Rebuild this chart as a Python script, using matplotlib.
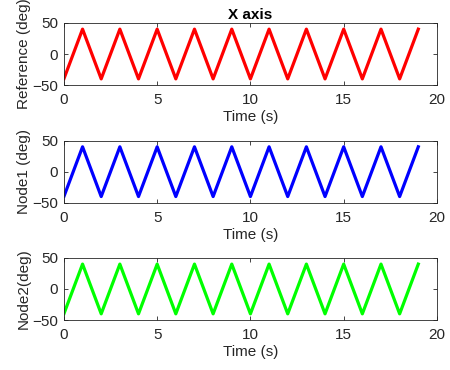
import matplotlib
matplotlib.use("Agg")
import matplotlib.pyplot as plt

time_s = [0, 1, 2, 3, 4, 5, 6, 7, 8, 9, 10, 11, 12, 13, 14, 15, 16, 17, 18, 19]
reference_deg = [-40, 40, -40, 40, -40, 40, -40, 40, -40, 40, -40, 40, -40, 40, -40, 40, -40, 40, -40, 40]
node1_deg = [-40, 40, -40, 40, -40, 40, -40, 40, -40, 40, -40, 40, -40, 40, -40, 40, -40, 40, -40, 40]
node2_deg = [-40, 40, -40, 40, -40, 40, -40, 40, -40, 40, -40, 40, -40, 40, -40, 40, -40, 40, -40, 40]
xticks = [0, 5, 10, 15, 20]
yticks = [-50, 0, 50]

plt.rcParams['font.family'] = ['Liberation Sans', 'DejaVu Sans']
fig = plt.figure(figsize=(4.5, 3.7), dpi=100)

series = [(reference_deg, 'red', 'Reference (deg)', 'X axis'),
          (node1_deg, 'blue', 'Node1 (deg)', None),
          (node2_deg, '#00ff00', 'Node2(deg)', None)]
bottoms = [0.770, 0.452, 0.135]
axcol = '#262626'
for (vals, col, ylab, title), b in zip(series, bottoms):
    ax = fig.add_axes([0.142, b, 0.829, 0.168])
    ax.plot(time_s, vals, color=col, linewidth=2.3)
    ax.set_xlim(0, 20)
    ax.set_ylim(-50, 50)
    ax.set_xticks(xticks)
    ax.set_yticks(yticks)
    ax.tick_params(direction='in', top=True, right=True, length=3, width=0.6,
                   labelsize=11, colors=axcol)
    ax.tick_params(axis='x', pad=6)
    ax.tick_params(axis='y', pad=4)
    for sp in ax.spines.values():
        sp.set_color(axcol)
        sp.set_linewidth(0.6)
    ax.set_xlabel('Time (s)', fontsize=11, color=axcol, labelpad=2)
    ax.set_ylabel(ylab, fontsize=11, color=axcol, labelpad=1)
    if title:
        ax.set_title(title, fontsize=11, fontweight='bold', pad=3)

fig.savefig('out.png', dpi=100)
